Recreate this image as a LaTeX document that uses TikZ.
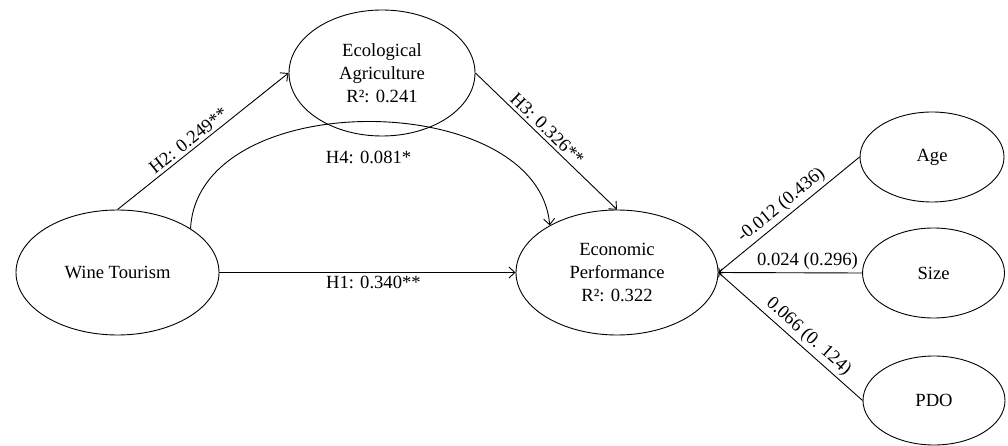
\documentclass[tikz,border=0pt]{standalone}
\usepackage{fontspec}
\setmainfont{Liberation Serif}
\usetikzlibrary{arrows.meta,shapes.geometric}
\begin{document}
\begin{tikzpicture}[x=1pt,y=-1pt,
  font=\fontsize{18.6}{23.3}\selectfont,
  var/.style={draw,ellipse,line width=0.9pt,inner sep=0pt,align=center},
  conn/.style={line width=0.9pt,-{Straight Barb[length=6pt,width=11pt]}},
  lbl/.style={inner sep=3pt,sloped}]
\useasboundingbox (0,0) rectangle (1008,446);
\node[var,minimum width=203pt,minimum height=125pt] (wt) at (117.5,272.5) {Wine Tourism};
\node[var,minimum width=186pt,minimum height=126pt] (ea) at (382,73) {Ecological\\Agriculture\\R²: 0.241};
\node[var,minimum width=202pt,minimum height=125pt] (ep) at (617,272.5) {Economic\\Performance\\R²: 0.322};
\node[var,minimum width=144pt,minimum height=90pt] (age) at (932,157) {Age};
\node[var,minimum width=142pt,minimum height=90pt] (size) at (933.5,273) {Size};
\node[var,minimum width=142pt,minimum height=89pt] (pdo) at (934,400.5) {PDO};
\draw[conn] (wt.east) -- node[lbl,below,pos=0.52] {H1: 0.340**} (ep.west);
\draw[conn] (wt.90) -- node[lbl,above,pos=0.45] {H2: 0.249**} (ea.west);
\draw[conn] (ea.east) -- node[lbl,above,pos=0.46] {H3: 0.326**} (ep.north);
\draw[conn] (wt.31.5) .. controls (198,85) and (538,88) .. node[below=26pt,pos=0.5] {H4: 0.081*} (ep.145.7);
\draw[conn,<-] (ep.east) -- node[lbl,above,pos=0.5] {-0.012 (0.436)} (age.west);
\draw[conn,<-] (ep.east) -- node[lbl,above,pos=0.62] {0.024 (0.296)} (size.west);
\draw[conn,<-] (ep.east) -- node[lbl,above,pos=0.57] {0.066 (0. 124)} (pdo.west);
\end{tikzpicture}
\end{document}
